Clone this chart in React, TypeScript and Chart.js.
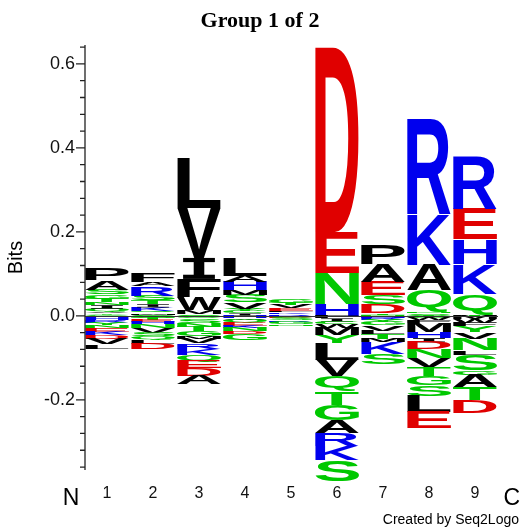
import React, { useEffect, useRef } from 'react';
import { Chart, registerables } from 'chart.js';

Chart.register(...registerables);

type Col = [string, number][];

const TITLE = 'Group 1 of 2';
const positions = [1, 2, 3, 4, 5, 6, 7, 8, 9];
const yTickValues = Array.from({ length: 26 }, (_, k) => Math.round((k - 9) * 4) / 100);

// letters above zero, listed from the baseline upward
const p1Up: Col = [['C', 0.003], ['Y', 0.004], ['V', 0.004], ['Q', 0.006], ['I', 0.009], ['N', 0.007], ['T', 0.008], ['G', 0.010], ['S', 0.011], ['A', 0.022], ['P', 0.026]];
const p2Up: Col = [['C', 0.003], ['M', 0.004], ['Q', 0.005], ['K', 0.008], ['I', 0.008], ['T', 0.009], ['S', 0.011], ['R', 0.022], ['A', 0.010], ['F', 0.022]];
const p3Up: Col = [['C', 0.004], ['M', 0.010], ['W', 0.030], ['F', 0.044], ['I', 0.050], ['V', 0.118], ['L', 0.120]];
const p4Up: Col = [['I', 0.006], ['C', 0.005], ['Y', 0.006], ['V', 0.016], ['S', 0.017], ['M', 0.011], ['H', 0.020], ['A', 0.015], ['L', 0.042]];
const p5Up: Col = [['R', 0.004], ['K', 0.004], ['F', 0.004], ['E', 0.006], ['V', 0.008], ['T', 0.005], ['G', 0.009]];
const p6Up: Col = [['H', 0.028], ['N', 0.075], ['E', 0.097], ['D', 0.440]];
const p7Up: Col = [['N', 0.003], ['T', 0.004], ['D', 0.020], ['S', 0.022], ['E', 0.032], ['A', 0.042], ['P', 0.045]];
const p8Up: Col = [['T', 0.003], ['S', 0.004], ['N', 0.003], ['Q', 0.052], ['A', 0.060], ['K', 0.120], ['R', 0.225]];
const p9Up: Col = [['T', 0.004], ['Q', 0.048], ['K', 0.072], ['H', 0.058], ['E', 0.072], ['R', 0.125]];

// letters below zero, listed from the baseline downward
const p1Down: Col = [['W', 0.003], ['H', 0.007], ['R', 0.006], ['Y', 0.006], ['N', 0.006], ['E', 0.010], ['K', 0.008], ['D', 0.008], ['V', 0.014], ['L', 0.010]];
const p2Down: Col = [['G', 0.005], ['T', 0.005], ['E', 0.005], ['H', 0.005], ['N', 0.008], ['V', 0.012], ['S', 0.008], ['Q', 0.008], ['L', 0.010], ['D', 0.014]];
const p3Down: Col = [['C', 0.006], ['S', 0.010], ['N', 0.010], ['T', 0.011], ['G', 0.011], ['M', 0.006], ['V', 0.011], ['R', 0.013], ['K', 0.015], ['Q', 0.014], ['E', 0.018], ['D', 0.018], ['A', 0.020]];
const p4Down: Col = [['H', 0.005], ['W', 0.004], ['Q', 0.006], ['E', 0.008], ['K', 0.006], ['N', 0.008], ['D', 0.006], ['G', 0.014]];
const p5Down: Col = [['H', 0.003], ['D', 0.003], ['S', 0.005], ['R', 0.004], ['G', 0.005], ['N', 0.004]];
const p6Down: Col = [['F', 0.006], ['I', 0.008], ['C', 0.006], ['W', 0.008], ['M', 0.018], ['Y', 0.018], ['L', 0.040], ['V', 0.040], ['Q', 0.036], ['T', 0.032], ['G', 0.036], ['A', 0.032], ['R', 0.030], ['K', 0.034], ['S', 0.050]];
const p7Down: Col = [['H', 0.004], ['R', 0.005], ['Y', 0.006], ['G', 0.008], ['V', 0.012], ['L', 0.008], ['T', 0.012], ['M', 0.008], ['K', 0.028], ['S', 0.024]];
const p8Down: Col = [['C', 0.005], ['W', 0.006], ['F', 0.006], ['M', 0.022], ['H', 0.014], ['I', 0.010], ['D', 0.017], ['N', 0.020], ['V', 0.022], ['T', 0.020], ['G', 0.022], ['S', 0.026], ['L', 0.038], ['E', 0.038]];
const p9Down: Col = [['M', 0.008], ['W', 0.008], ['F', 0.008], ['Y', 0.014], ['V', 0.016], ['N', 0.028], ['L', 0.010], ['S', 0.038], ['G', 0.010], ['A', 0.030], ['T', 0.031], ['D', 0.030]];

const upStacks = [p1Up, p2Up, p3Up, p4Up, p5Up, p6Up, p7Up, p8Up, p9Up];
const downStacks = [p1Down, p2Down, p3Down, p4Down, p5Down, p6Down, p7Down, p8Down, p9Down];

const RED = '#e00000';
const BLUE = '#0000ee';
const GREEN = '#00c800';
const BLACK = '#000000';

const colorOf = (ch: string) =>
  'DE'.includes(ch) ? RED : 'KRH'.includes(ch) ? BLUE : 'GSTYCNQ'.includes(ch) ? GREEN : BLACK;

const LETTER_FONT = 'bold 100px "Liberation Sans", Arial, sans-serif';

function drawLetter(ctx: CanvasRenderingContext2D, ch: string, x: number, y: number, w: number, h: number) {
  if (h <= 0.05) return;
  ctx.save();
  ctx.fillStyle = colorOf(ch);
  if (ch === 'I') {
    // serif-style I: top bar, narrow stem, bottom bar
    const bar = h * 0.2;
    const bw = w * 0.72;
    const sw = w * 0.24;
    const cx = x + w / 2;
    ctx.fillRect(cx - bw / 2, y, bw, bar);
    ctx.fillRect(cx - sw / 2, y + bar * 0.9, sw, h - bar * 1.8);
    ctx.fillRect(cx - bw / 2, y + h - bar, bw, bar);
    ctx.restore();
    return;
  }
  ctx.font = LETTER_FONT;
  ctx.textAlign = 'left';
  ctx.textBaseline = 'alphabetic';
  const m = ctx.measureText(ch);
  const left = m.actualBoundingBoxLeft;
  const right = m.actualBoundingBoxRight;
  const asc = m.actualBoundingBoxAscent;
  const desc = m.actualBoundingBoxDescent;
  const iw = left + right;
  const ih = asc + desc;
  ctx.translate(x, y);
  ctx.scale(w / iw, h / ih);
  ctx.fillText(ch, left, asc);
  ctx.restore();
}

const logoPlugin = {
  id: 'logoPlugin',
  afterDatasetsDraw(chart: any) {
    const { ctx, chartArea } = chart;
    const xs = chart.scales.x;
    const ys = chart.scales.y;
    ctx.save();

    positions.forEach((pos, i) => {
      const xl = xs.getPixelForValue(pos - 0.48);
      const xr = xs.getPixelForValue(pos + 0.48);
      let cum = 0;
      for (const [ch, v] of upStacks[i]) {
        const yb = ys.getPixelForValue(cum);
        const yt = ys.getPixelForValue(cum + v);
        drawLetter(ctx, ch, xl, yt, xr - xl, yb - yt);
        cum += v;
      }
      cum = 0;
      for (const [ch, v] of downStacks[i]) {
        const yt = ys.getPixelForValue(cum);
        const yb = ys.getPixelForValue(cum - v);
        drawLetter(ctx, ch, xl, yt, xr - xl, yb - yt);
        cum -= v;
      }
    });

    // zero line
    const y0 = ys.getPixelForValue(0);
    ctx.strokeStyle = '#333';
    ctx.lineWidth = 1;
    ctx.beginPath();
    ctx.moveTo(chartArea.left, Math.round(y0) + 0.5);
    ctx.lineTo(xs.getPixelForValue(9.5), Math.round(y0) + 0.5);
    ctx.stroke();

    // y axis line and ticks
    const ax = chartArea.left;
    ctx.strokeStyle = '#222';
    ctx.lineWidth = 1.3;
    ctx.beginPath();
    ctx.moveTo(ax, chartArea.top);
    ctx.lineTo(ax, chartArea.bottom);
    for (const v of yTickValues) {
      const py = ys.getPixelForValue(v);
      const major = Math.abs(v / 0.2 - Math.round(v / 0.2)) < 1e-6;
      ctx.moveTo(ax - (major ? 9 : 5), py);
      ctx.lineTo(ax, py);
    }
    ctx.stroke();

    // N / C terminal labels and credit
    ctx.fillStyle = '#000';
    ctx.textBaseline = 'alphabetic';
    ctx.textAlign = 'center';
    ctx.font = '23px "Liberation Sans", Arial, sans-serif';
    ctx.fillText('N', xs.getPixelForValue(0.22), 505);
    ctx.fillText('C', xs.getPixelForValue(9.8), 505);
    ctx.textAlign = 'right';
    ctx.font = '14px "Liberation Sans", Arial, sans-serif';
    ctx.fillText('Created by Seq2Logo', 519, 524);

    ctx.restore();
  },
};

export default function App() {
  const ref = useRef<HTMLCanvasElement | null>(null);

  useEffect(() => {
    if (!ref.current) return;
    Chart.defaults.font.family = '"Liberation Sans", Arial, sans-serif';
    const chart = new Chart(ref.current, {
      type: 'scatter',
      data: { datasets: [{ data: [] as any[] }] },
      options: {
        animation: false,
        responsive: false,
        devicePixelRatio: 1,
        events: [],
        layout: { padding: { left: 0, right: 6, top: 0, bottom: 0 } },
        plugins: {
          legend: { display: false },
          tooltip: { enabled: false },
          title: {
            display: true,
            text: TITLE,
            color: '#000',
            font: { family: '"Liberation Serif", "Times New Roman", serif', size: 22, weight: 'bold' },
            padding: { top: 8, bottom: 10.6 },
          },
        },
        scales: {
          x: {
            type: 'linear',
            min: 0.522,
            max: 9.978,
            grid: { display: false, drawTicks: false },
            border: { display: false },
            afterBuildTicks: (scale: any) => {
              scale.ticks = positions.map((p) => ({ value: p }));
            },
            afterFit: (scale: any) => {
              scale.height = 62;
            },
            ticks: {
              autoSkip: false,
              maxRotation: 0,
              padding: 14,
              color: '#111',
              font: { size: 16 },
              callback: (v: any) => String(v),
            },
          },
          y: {
            type: 'linear',
            min: -0.367,
            max: 0.645,
            grid: { display: false, drawTicks: false },
            border: { display: false },
            afterBuildTicks: (scale: any) => {
              scale.ticks = yTickValues.map((v) => ({ value: v }));
            },
            afterFit: (scale: any) => {
              scale.width = 85;
            },
            title: {
              display: true,
              text: 'Bits',
              color: '#000',
              font: { size: 20 },
              padding: { top: 4, bottom: 0 },
            },
            ticks: {
              autoSkip: false,
              padding: 10,
              color: '#111',
              font: { size: 18 },
              callback: (v: any) => {
                const n = Number(v);
                return Math.abs(n / 0.2 - Math.round(n / 0.2)) < 1e-6 ? n.toFixed(1) : '';
              },
            },
          },
        },
      },
      plugins: [logoPlugin],
    } as any);
    return () => chart.destroy();
  }, []);

  return (
    <canvas
      ref={ref}
      width={526}
      height={532}
      style={{ position: 'fixed', left: 0, top: 0, display: 'block', width: 526, height: 532 }}
    />
  );
}
